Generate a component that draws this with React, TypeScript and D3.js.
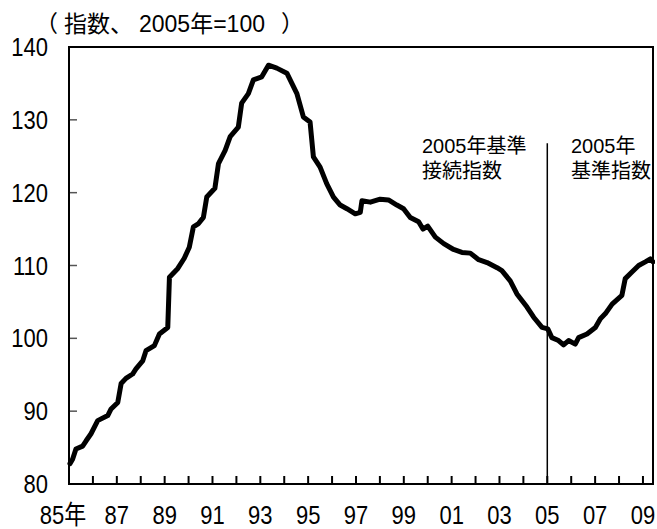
import React from 'react';
import * as d3 from 'd3';

// 地価指数（2005年=100）、年央を小数で表した時点
const years = [
  1985.04, 1985.15, 1985.29, 1985.57, 1985.71, 1985.92, 1986.2, 1986.62, 1986.76,
  1987.04, 1987.18, 1987.38, 1987.66, 1987.8, 1988.08, 1988.22, 1988.57, 1988.78,
  1989.13, 1989.2, 1989.55, 1989.82, 1990.03, 1990.2, 1990.4, 1990.62, 1990.76,
  1991.1, 1991.25, 1991.53, 1991.74, 1992.08, 1992.22, 1992.5, 1992.71, 1993.06,
  1993.34, 1993.69, 1994.11, 1994.32, 1994.53, 1994.8, 1995.08, 1995.22, 1995.5,
  1995.78, 1996.06, 1996.34, 1996.62, 1996.97, 1997.18, 1997.25, 1997.6, 1998.01,
  1998.36, 1998.71, 1998.99, 1999.27, 1999.62, 1999.8, 2000.0, 2000.32, 2000.67,
  2001.08, 2001.43, 2001.78, 2002.13, 2002.48, 2002.9, 2003.1, 2003.45, 2003.73,
  2004.15, 2004.43, 2004.78, 2005.02, 2005.19, 2005.47, 2005.68, 2005.89, 2006.17,
  2006.31, 2006.66, 2007.01, 2007.22, 2007.43, 2007.71, 2008.12, 2008.26, 2008.54,
  2008.82, 2009.1, 2009.31, 2009.42,
];
const values = [
  82.8, 83.4, 84.8, 85.2, 85.9, 86.9, 88.7, 89.4, 90.3,
  91.2, 93.8, 94.5, 95.1, 95.8, 96.9, 98.3, 99.0, 100.6,
  101.5, 108.4, 109.6, 111.0, 112.5, 115.3, 115.7, 116.6, 119.4,
  120.6, 124.0, 125.8, 127.7, 129.0, 132.3, 133.6, 135.5, 135.9,
  137.5, 137.1, 136.4, 135.0, 133.6, 130.4, 129.7, 124.9, 123.5,
  121.2, 119.4, 118.3, 117.8, 117.1, 117.3, 118.9, 118.7, 119.1,
  119.0, 118.3, 117.8, 116.6, 116.0, 115.0, 115.4, 113.9, 113.0,
  112.2, 111.8, 111.7, 110.8, 110.4, 109.7, 109.3, 107.9, 106.1,
  104.3, 102.9, 101.5, 101.3, 100.1, 99.7, 99.1, 99.7, 99.2,
  100.1, 100.6, 101.5, 102.7, 103.4, 104.7, 105.9, 108.2, 109.1,
  110.0, 110.5, 110.9, 110.5,
];

const yTicks = [80, 90, 100, 110, 120, 130, 140];
const xTickYears = d3.range(1985, 2010);
const xLabelYears = [1985, 1987, 1989, 1991, 1993, 1995, 1997, 1999, 2001, 2003, 2005, 2007, 2009];
const xLabels = ['85年', '87', '89', '91', '93', '95', '97', '99', '01', '03', '05', '07', '09'];

const splitYear = 2005;
const splitTop = 126.8;

const FONT = '"Liberation Sans", "Noto Sans", Roboto, "Noto Sans CJK JP", sans-serif';

const App = () => {
  const width = 657;
  const height = 529;

  const x = d3.scaleLinear().domain([1985, 2009.42]).range([69, 653]);
  const y = d3.scaleLinear().domain([80, 140]).range([484, 47]);

  const line = d3
    .line<number>()
    .x((_, i) => x(years[i]))
    .y((d) => y(d));

  const stretch = 'scale(1,1.18)';

  return (
    <div style={{ fontFamily: FONT }}>
      <svg
        width={width}
        height={height}
        style={{ position: 'absolute', left: 0, top: 0, background: '#fff' }}
      >
        {/* 単位 */}
        <text y={32} fontSize={23} fill="#000" fontFamily={FONT}>
          <tspan x={35}>（</tspan>
          <tspan x={64}>指数、</tspan>
          <tspan x={139}>2005年=100</tspan>
          <tspan x={281}>）</tspan>
        </text>

        {/* 縦軸の目盛 */}
        {yTicks.map((t) => (
          <g key={t}>
            {t > 80 && t < 140 && (
              <line x1={69} x2={77} y1={y(t)} y2={y(t)} stroke="#555" strokeWidth={1.5} />
            )}
            <g transform={`translate(48,${y(t) + 9}) ${stretch}`}>
              <text textAnchor="end" fontSize={22} fill="#000" fontFamily={FONT}>
                {t}
              </text>
            </g>
          </g>
        ))}

        {/* 横軸の目盛 */}
        {xTickYears.map((yr) => (
          <line key={yr} x1={x(yr)} x2={x(yr)} y1={484} y2={476} stroke="#000" strokeWidth={2} />
        ))}
        {xLabelYears.map((yr, i) => (
          <g key={yr} transform={`translate(${x(yr) - (i === 0 ? 6 : 0)},524) ${stretch}`}>
            <text textAnchor="middle" fontSize={22} fill="#000" fontFamily={FONT}>
              {xLabels[i]}
            </text>
          </g>
        ))}

        {/* 基準切替の線 */}
        <line
          x1={x(splitYear)}
          x2={x(splitYear)}
          y1={y(splitTop)}
          y2={484}
          stroke="#000"
          strokeWidth={1.5}
        />

        {/* 注記 */}
        <text fontSize={20} fill="#000" fontFamily={FONT}>
          <tspan x={422} y={153}>2005年基準</tspan>
          <tspan x={422} y={178}>接続指数</tspan>
          <tspan x={571} y={153}>2005年</tspan>
          <tspan x={571} y={178}>基準指数</tspan>
        </text>

        {/* 系列 */}
        <path
          d={line(values) || ''}
          fill="none"
          stroke="#000"
          strokeWidth={5}
          strokeLinejoin="round"
          strokeLinecap="round"
        />

        {/* 枠 */}
        <rect x={69} y={47} width={653 - 69} height={484 - 47} fill="none" stroke="#000" strokeWidth={2} />
        <rect x={655} y={0} width={2} height={height} fill="#fff" />
      </svg>
    </div>
  );
};

export default App;
